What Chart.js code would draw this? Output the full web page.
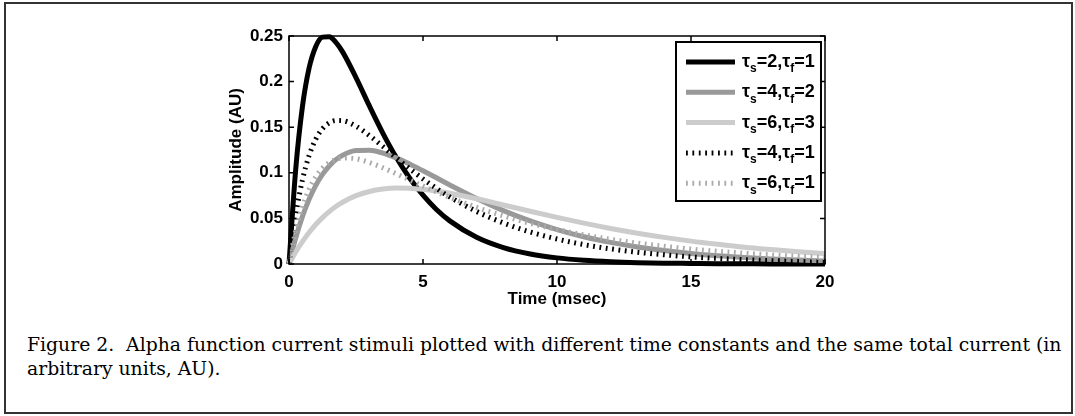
<!DOCTYPE html>
<html>
<head>
<meta charset="utf-8">
<script src="https://cdn.jsdelivr.net/npm/chart.js@4.4.0/dist/chart.umd.min.js"></script>
<style>
  body { margin: 0; background: #fff; width: 1075px; height: 416px; overflow: hidden; position: relative; }
  #frame { position: absolute; left: 4px; top: 2px; width: 1065px; height: 408px; border: 2px solid #333; }
  #plot { position: absolute; left: 0; top: 0; }
  #caption { position: absolute; left: 27px; top: 333px; font-family: "DejaVu Serif"; font-size: 18.8px;
             line-height: 24px; color: #000; white-space: nowrap; }
</style>
</head>
<body>
<div id="frame"></div>
<canvas id="plot" width="1075" height="312"></canvas>
<div id="caption">Figure 2.&nbsp; Alpha function current stimuli plotted with different time constants and the same total current (in<br>arbitrary units, AU).</div>

<script>
// time axis (msec), shared by all curves
const timeMs = [0, 0.25, 0.5, 0.75, 1, 1.25, 1.5, 1.75, 2, 2.5, 3, 3.5, 4, 4.5, 5, 5.5, 6,
                7, 8, 9, 10, 11, 12, 13, 14, 15, 16, 17, 18, 19, 20];

// amplitude (AU)
const ampS2F1 = [0, 0.1037, 0.1723, 0.2149, 0.2386, 0.2488, 0.2493, 0.2431, 0.2326, 0.2044, 0.1733, 0.1436,
                 0.1170, 0.0943, 0.0754, 0.0598, 0.0473, 0.0293, 0.0180, 0.0110, 0.0067, 0.0041, 0.0025,
                 0.0015, 0.0009, 0.0006, 0.0003, 0.0002, 0.0001, 0.0001, 0];
const ampS4F2 = [0, 0.0285, 0.0519, 0.0709, 0.0862, 0.0982, 0.1075, 0.1144, 0.1193, 0.1244, 0.1247, 0.1216,
                 0.1163, 0.1097, 0.1022, 0.0945, 0.0867, 0.0718, 0.0585, 0.0472, 0.0377, 0.0299, 0.0237,
                 0.0187, 0.0147, 0.0115, 0.0090, 0.0071, 0.0055, 0.0043, 0.0033];
const ampS6F3 = [0, 0.0131, 0.0245, 0.0346, 0.0433, 0.0509, 0.0574, 0.0630, 0.0677, 0.0749, 0.0795, 0.0822,
                 0.0833, 0.0831, 0.0819, 0.0800, 0.0775, 0.0715, 0.0647, 0.0578, 0.0511, 0.0448, 0.0390,
                 0.0338, 0.0292, 0.0251, 0.0216, 0.0184, 0.0158, 0.0134, 0.0115];
const ampS4F1 = [0, 0.0535, 0.0920, 0.1189, 0.1370, 0.1484, 0.1547, 0.1573, 0.1571, 0.1511, 0.1409, 0.1289,
                 0.1165, 0.1045, 0.0933, 0.0829, 0.0735, 0.0576, 0.0450, 0.0351, 0.0274, 0.0213, 0.0166,
                 0.0129, 0.0101, 0.0078, 0.0061, 0.0048, 0.0037, 0.0029, 0.0022];
const ampS6F1 = [0, 0.0361, 0.0627, 0.0820, 0.0957, 0.1051, 0.1111, 0.1146, 0.1162, 0.1154, 0.1113, 0.1056,
                 0.0990, 0.0923, 0.0856, 0.0791, 0.0731, 0.0621, 0.0527, 0.0446, 0.0378, 0.0320, 0.0271,
                 0.0229, 0.0194, 0.0164, 0.0139, 0.0118, 0.0100, 0.0084, 0.0071];

// legend: tau_s / tau_f for each curve
const tauS = ["2", "4", "6", "4", "6"];
const tauF = ["1", "2", "3", "1", "1"];

const xTicks = [0, 5, 10, 15, 20];
const yTicks = ["0", "0.05", "0.1", "0.15", "0.2", "0.25"];

const AXIS_FONT = { family: "Liberation Sans", size: 17, weight: "bold" };

const styles = [
  { color: "#000000", width: 5, dash: [] },
  { color: "#999999", width: 5, dash: [] },
  { color: "#cccccc", width: 5, dash: [] },
  { color: "#000000", width: 5, dash: [1.8, 4.6] },
  { color: "#aaaaaa", width: 5, dash: [1.8, 4.6] }
];
const allAmps = [ampS2F1, ampS4F2, ampS6F3, ampS4F1, ampS6F1];

const datasets = allAmps.map((amps, i) => ({
  label: "tau_s=" + tauS[i] + ",tau_f=" + tauF[i],
  data: timeMs.map((t, k) => ({ x: t, y: amps[k] })),
  borderColor: styles[i].color,
  borderWidth: styles[i].width,
  borderDash: styles[i].dash,
  borderCapStyle: "butt",
  pointRadius: 0,
  cubicInterpolationMode: "monotone",
  clip: 4,
  order: allAmps.length - i   // later curves on top, like matlab
}));

// box, inward ticks and the legend
const boxPlugin = {
  id: "boxPlugin",
  afterDatasetsDraw(chart) {
    const { ctx, chartArea: a, scales: { x, y } } = chart;
    ctx.save();
    ctx.strokeStyle = "#000";
    ctx.lineWidth = 1.5;
    ctx.strokeRect(a.left, a.top, a.right - a.left, a.bottom - a.top);
    const tl = 5;
    ctx.beginPath();
    xTicks.forEach(v => {
      const px = x.getPixelForValue(v);
      ctx.moveTo(px, a.bottom); ctx.lineTo(px, a.bottom - tl);
      ctx.moveTo(px, a.top); ctx.lineTo(px, a.top + tl);
    });
    yTicks.forEach(v => {
      const py = y.getPixelForValue(parseFloat(v));
      ctx.moveTo(a.left, py); ctx.lineTo(a.left + tl, py);
      ctx.moveTo(a.right, py); ctx.lineTo(a.right - tl, py);
    });
    ctx.stroke();

    // legend box
    const lx = a.right - 149, ly = a.top + 6, lw = 145, lh = 159;
    ctx.fillStyle = "#fff";
    ctx.fillRect(lx, ly, lw, lh);
    ctx.lineWidth = 2;
    ctx.strokeRect(lx, ly, lw, lh);
    styles.forEach((s, i) => {
      const ry = ly + 20 + i * 30.3;
      ctx.beginPath();
      ctx.strokeStyle = s.color;
      ctx.lineWidth = s.width;
      ctx.lineCap = "butt";
      ctx.setLineDash(s.dash);
      ctx.moveTo(lx + 10, ry); ctx.lineTo(lx + 59, ry);
      ctx.stroke();
      ctx.setLineDash([]);
      // label with subscripts
      ctx.fillStyle = "#000";
      ctx.textBaseline = "middle";
      let tx = lx + 66;
      const parts = [["\u03c4", 0], ["s", 1], ["=" + tauS[i] + ",", 0], ["\u03c4", 0], ["f", 1], ["=" + tauF[i], 0]];
      parts.forEach(([txt, sub]) => {
        ctx.font = sub ? "bold 12px 'Liberation Sans'" : "bold 18px 'Liberation Sans'";
        ctx.fillText(txt, tx, ry + (sub ? 7 : 0));
        tx += ctx.measureText(txt).width;
      });
    });
    ctx.restore();
  }
};

new Chart(document.getElementById("plot"), {
  type: "line",
  data: { datasets },
  options: {
    responsive: false,
    animation: false,
    layout: { padding: { left: 212, top: 36, right: 250, bottom: 0 } },
    plugins: { legend: { display: false }, tooltip: { enabled: false } },
    scales: {
      x: {
        type: "linear", min: 0, max: 20,
        afterBuildTicks: s => { s.ticks = xTicks.map(v => ({ value: v })); },
        afterFit: s => { s.height = 48; },
        grid: { display: false, drawTicks: false },
        border: { display: false },
        ticks: { font: AXIS_FONT, color: "#000", padding: 8, maxRotation: 0 },
        title: { display: true, text: "Time (msec)", font: AXIS_FONT, color: "#000", padding: { top: 0, bottom: 2 } }
      },
      y: {
        type: "linear", min: 0, max: 0.25,
        afterBuildTicks: s => { s.ticks = yTicks.map(v => ({ value: parseFloat(v) })); },
        afterFit: s => { s.width = 77; },
        grid: { display: false, drawTicks: false },
        border: { display: false },
        ticks: { font: AXIS_FONT, color: "#000", padding: 6,
                 callback: v => yTicks[Math.round(v / 0.05)] },
        title: { display: true, text: "Amplitude (AU)", font: AXIS_FONT, color: "#000", padding: { top: 14, bottom: 0 } }
      }
    }
  },
  plugins: [boxPlugin]
});
</script>
</body>
</html>
